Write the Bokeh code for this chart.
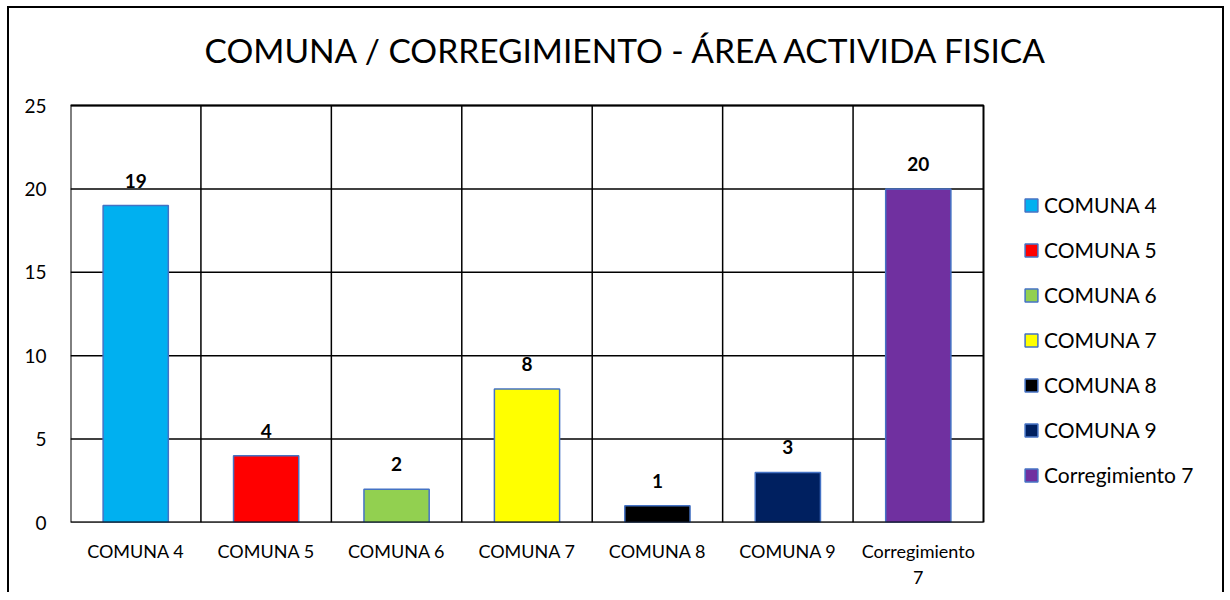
from bokeh.plotting import figure
from bokeh.models import ColumnDataSource, FixedTicker, Range1d
from bokeh.core.properties import value
from bokeh.embed import file_html
from bokeh.resources import INLINE

categories = ["COMUNA 4", "COMUNA 5", "COMUNA 6", "COMUNA 7", "COMUNA 8", "COMUNA 9", "Corregimiento 7"]
values = [19, 4, 2, 8, 1, 3, 20]
colors = ["#00B0F0", "#FF0000", "#92D050", "#FFFF00", "#000000", "#002060", "#7030A0"]
tick_labels = ["COMUNA 4", "COMUNA 5", "COMUNA 6", "COMUNA 7", "COMUNA 8", "COMUNA 9", "Corregimiento\n7"]
y_ticks = [0, 5, 10, 15, 20, 25]
title_text = "COMUNA / CORREGIMIENTO - ÁREA ACTIVIDA FISICA"

FONT = "Lato"
n = len(categories)
y_max = y_ticks[-1]
xs = [i + 0.5 for i in range(n)]
src = ColumnDataSource(dict(x=xs, top=values, cat=categories, color=colors,
                            label=[str(v) for v in values]))

# layout (page pixels): plot area box of the categories, and the canvas extent
CANVAS_L, CANVAS_T, CANVAS_W, CANVAS_H = 9, 8, 1217, 586
BOX_L, BOX_R, BOX_T, BOX_B = 70, 983, 105, 522
px_per_x = (BOX_R - BOX_L) / n
px_per_y = (BOX_B - BOX_T) / y_max
x_end = (CANVAS_L + CANVAS_W - BOX_L) / px_per_x
y_end = (BOX_B - CANVAS_T) / px_per_y

def to_x(px):
    return (px - BOX_L) / px_per_x

def to_y(py):
    return (BOX_B - py) / px_per_y

p = figure(width=CANVAS_W, height=CANVAS_H, output_backend="svg", toolbar_location=None,
           x_range=Range1d(0, x_end), y_range=Range1d(0, y_end),
           min_border_left=BOX_L - CANVAS_L, min_border_right=0, min_border_top=0,
           min_border_bottom=CANVAS_T + CANVAS_H - BOX_B)
p.styles = {"border-top": "2px solid black", "border-left": "2px solid black",
            "border-right": "2px solid black", "margin-left": "7px", "margin-top": "6px"}
p.background_fill_color = "white"
p.border_fill_color = "white"
p.outline_line_color = None
p.xgrid.visible = False
p.ygrid.visible = False

# title
p.text(x=[to_x(627)], y=[to_y(49)], text=[title_text], text_align="center",
       text_baseline="alphabetic", text_font=value(FONT), text_font_size="33.5px",
       text_color="black")

# grid lines (only over the categories)
p.segment(x0=[0] * len(y_ticks), x1=[n] * len(y_ticks), y0=y_ticks, y1=y_ticks,
          line_color="black", line_width=1.5)
p.segment(x0=list(range(1, n)), x1=list(range(1, n)), y0=[0] * (n - 1), y1=[y_max] * (n - 1),
          line_color="black", line_width=1.5)

r = p.vbar(x="x", top="top", width=0.5, source=src, fill_color="color",
           line_color="#4472C4", line_width=1.5, legend_field="cat")

# plot-area border
p.quad(left=[0], right=[n], bottom=[0], top=[y_max], fill_color=None,
       line_color="black", line_width=2)

p.text(x="x", y="top", text="label", source=src, text_align="center",
       text_baseline="bottom", y_offset=-18, text_font=value(FONT),
       text_font_size="19px", text_font_style="bold", text_color="black")

# axes
p.xaxis.ticker = FixedTicker(ticks=xs)
p.xaxis.major_label_overrides = {x: lab for x, lab in zip(xs, tick_labels)}
p.xaxis.axis_line_color = None
p.xaxis.major_tick_line_color = None
p.xaxis.minor_tick_line_color = None
p.xaxis.major_label_text_font = FONT
p.xaxis.major_label_text_font_size = "18px"
p.xaxis.major_label_text_color = "black"
p.xaxis.major_label_standoff = 11

p.yaxis.ticker = FixedTicker(ticks=y_ticks)
p.yaxis.axis_line_color = None
p.yaxis.major_tick_line_color = None
p.yaxis.minor_tick_line_color = None
p.yaxis.major_label_text_font = FONT
p.yaxis.major_label_text_font_size = "19px"
p.yaxis.major_label_text_color = "black"
p.yaxis.major_label_standoff = 18

leg = p.legend[0]
leg.location = (953, 35)
leg.margin = 0
leg.padding = 0
leg.border_line_color = None
leg.background_fill_alpha = 0
leg.glyph_width = 16
leg.glyph_height = 16
leg.label_height = 16
leg.spacing = 20
leg.label_standoff = 5
leg.label_text_font = FONT
leg.label_text_font_size = "21px"
leg.label_text_color = "black"

open("out.html", "w").write(file_html(p, INLINE))
